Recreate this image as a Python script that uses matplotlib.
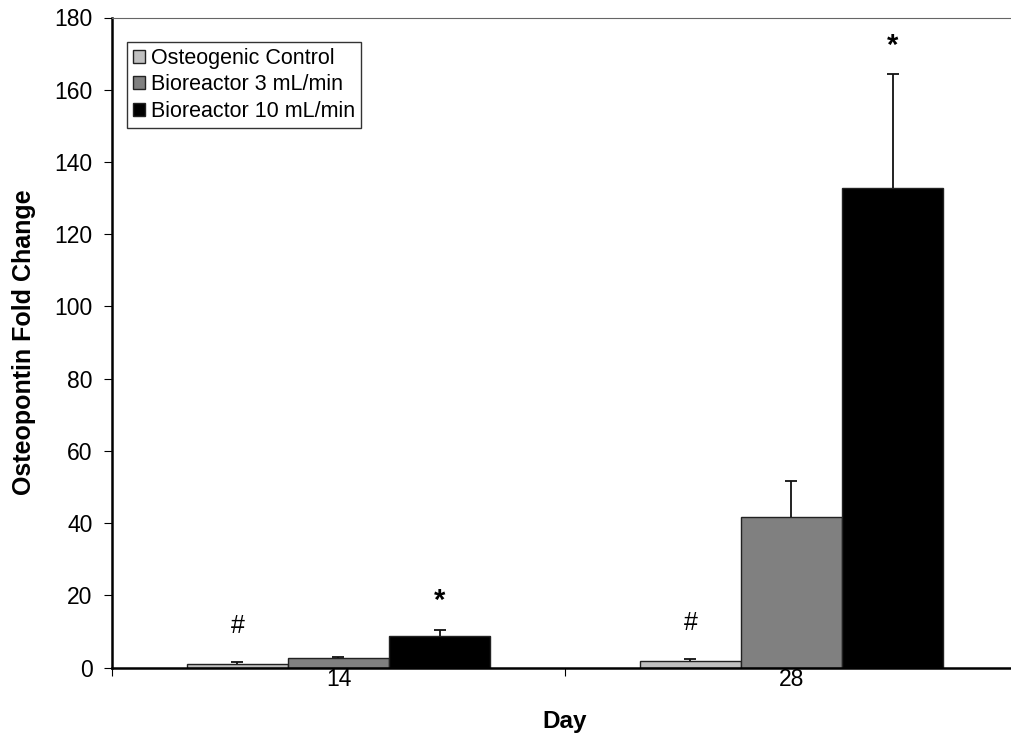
import numpy as np
import matplotlib.pyplot as plt

plt.rcParams['font.family'] = ['Liberation Sans', 'DejaVu Sans']

# osteopontin fold change by day and culture condition
days = ['14', '28']
groups = ['Osteogenic Control', 'Bioreactor 3 mL/min', 'Bioreactor 10 mL/min']
control = [1.0, 1.9]
bio3 = [2.6, 41.6]
bio10 = [8.9, 132.8]
control_err = [0.5, 0.6]
bio3_err = [0.4, 10.2]
bio10_err = [1.5, 31.6]
# significance marks above the bars: (day index, group index, symbol, y)
marks = [(0, 0, '#', 11.5), (0, 2, '*', 18.5), (1, 0, '#', 12.5), (1, 2, '*', 172)]

colors = ['#c0c0c0', '#808080', '#000000']

fig = plt.figure(figsize=(10.12, 7.36), dpi=100)
ax = fig.add_axes([112 / 1012, 1 - 667.7 / 736, 906 / 1012, 650.2 / 736])

width = 0.223
x = np.arange(len(days)) + 0.5
series = [control, bio3, bio10]
errs = [control_err, bio3_err, bio10_err]
for i, (vals, err) in enumerate(zip(series, errs)):
    pos = x + (i - 1) * width
    ax.bar(pos, vals, width, color=colors[i], edgecolor='#222222',
           linewidth=1.0, label=groups[i], zorder=2)
    eb = ax.errorbar(pos, vals, yerr=[np.zeros(len(err)), err], fmt='none',
                     ecolor='#111111', elinewidth=1.3, capsize=4, capthick=1.3,
                     zorder=3)
    # upper whisker only, no cap sitting on the bar top
    eb[1][0].set_visible(False)

for d, g, sym, y in marks:
    if sym == '*':
        ax.text(x[d] + (g - 1) * width, y, sym, ha='center', va='center',
                fontsize=21, fontweight='bold')
    else:
        ax.text(x[d] + (g - 1) * width, y, sym, ha='center', va='center',
                fontsize=18)

ax.set_xlim(0, 2)
ax.set_ylim(0, 180)
ax.set_yticks(np.arange(0, 181, 20))
ax.set_xticks([0, 1, 2])
ax.set_xticklabels([])
ax.set_xticks(x, minor=True)
ax.set_xticklabels(days, minor=True)
ax.tick_params(axis='x', which='minor', length=0, pad=0, labelsize=16.5)
ax.tick_params(axis='x', which='major', length=6, direction='out', width=0.8)
ax.tick_params(axis='y', length=6, direction='out', width=0.8, labelsize=16.5,
               pad=8)

ax.spines['right'].set_visible(False)
ax.spines['top'].set_color('#666666')
ax.spines['left'].set_linewidth(1.8)
ax.spines['bottom'].set_linewidth(1.8)

ax.set_ylabel('Osteopontin Fold Change', fontsize=18, fontweight='bold',
              labelpad=13)
ax.set_xlabel('Day', fontsize=17.5, fontweight='bold', labelpad=14)

leg = ax.legend(loc='upper left', bbox_to_anchor=(0.0166, 0.963), fontsize=15.5,
                frameon=True, fancybox=False, edgecolor='black',
                handlelength=0.55, handleheight=0.55, handletextpad=0.25,
                borderpad=0.3, labelspacing=0.25, borderaxespad=0)
leg.get_frame().set_linewidth(1.0)

fig.savefig('out.png', dpi=100)
